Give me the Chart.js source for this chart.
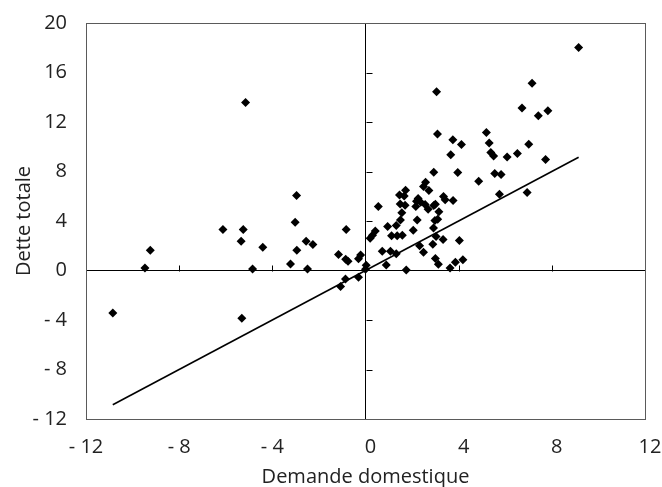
<!DOCTYPE html>
<html>
<head>
<meta charset="utf-8">
<script src="https://cdn.jsdelivr.net/npm/chart.js@4.4.1/dist/chart.umd.min.js"></script>
<style>
    html, body { margin: 0; padding: 0; background: #fff; }
    #wrap { width: 662px; height: 487px; }
</style>
</head>
<body>
<div id="wrap"><canvas id="Chart_Dette"></canvas></div>
<script>
// données
var demandeX = [
    -10.85, -9.47, -9.24, -6.12, -5.25, -5.34, -5.15, -5.31, -4.85, -4.41,
    -3.22, -3.02, -2.96, -2.95, -2.55, -2.26, -2.49, -1.16, -0.83, -0.85,
    -0.75, -0.30, -0.21, -1.07, -0.86, -0.30,
    0.03, 0.00, 0.20, 0.30, 0.42, 0.55, 0.72, 0.89, 0.95, 1.07,
    1.32, 1.12, 1.36, 1.58, 1.32, 1.50, 1.56, 1.49, 1.70, 1.46,
    1.66, 1.72, 1.75, 2.05, 2.22, 2.16, 2.19, 2.26, 2.37, 2.56,
    2.69, 2.49, 2.58, 2.72, 2.32, 2.49, 2.93, 2.93, 3.00, 3.15,
    2.98, 3.10, 2.92, 3.03, 2.89, 3.33, 4.03, 3.00, 3.13, 3.63,
    3.86, 4.18, 3.35, 3.42, 3.76, 3.05, 3.09, 3.75, 4.12, 3.66,
    3.96, 4.86, 5.19, 5.31, 5.38, 5.50, 6.08, 6.52, 7.01, 7.73,
    5.55, 5.82, 5.75, 6.94, 6.72, 7.15, 7.42, 7.83, 9.15
];
var detteY = [
    -3.43, 0.20, 1.64, 3.31, 3.31, 2.37, 13.57, -3.86, 0.13, 1.88,
    0.53, 3.90, 6.06, 1.64, 2.37, 2.10, 0.13, 1.29, 3.31, 0.90,
    0.75, 0.94, 1.26, -1.30, -0.68, -0.54,
    0.43, 0.10, 2.60, 2.85, 3.20, 5.17, 1.56, 0.45, 3.55, 1.56,
    1.35, 2.80, 2.80, 2.85, 3.63, 4.09, 4.66, 5.38, 5.28, 6.11,
    6.03, 6.49, 0.05, 3.26, 4.09, 5.17, 5.60, 5.81, 5.52, 5.33,
    4.95, 6.79, 7.14, 6.46, 2.01, 1.48, 7.94, 5.25, 5.36, 4.74,
    4.05, 4.15, 3.44, 2.74, 2.12, 2.50, 2.42, 0.96, 0.51, 0.21,
    0.67, 0.86, 5.98, 5.72, 5.65, 14.44, 11.04, 10.56, 10.18, 9.35,
    7.92, 7.22, 11.15, 10.31, 9.53, 9.25, 9.18, 9.45, 10.21, 8.97,
    7.84, 7.76, 6.17, 6.30, 13.14, 15.14, 12.50, 12.90, 18.02
];
// droite de régression (extrémités)
var droiteX = [-10.85, 9.15];
var droiteY = [-10.85, 9.15];
// graduations
var ticksX = [-12, -8, -4, 0, 4, 8, 12];
var ticksY = [-12, -8, -4, 0, 4, 8, 12, 16, 20];

var points = demandeX.map(function (x, i) {
    return { x: x, y: detteY[i] };
});
var droite = droiteX.map(function (x, i) {
    return { x: x, y: droiteY[i] };
});

function labelNeg(v) {
    return v < 0 ? '- ' + Math.abs(v) : '' + v;
}

// pas de marge automatique pour les étiquettes qui débordent
function sansMarge(scale) {
    scale.paddingLeft = 0;
    scale.paddingRight = 0;
    scale.paddingTop = 0;
    scale.paddingBottom = 0;
}

// cadre + petites graduations sur les axes du zéro
const plugin = {
    id: 'cadre_axes',
    beforeDatasetsDraw: (chart) => {
        const ctx = chart.ctx;
        const a = chart.chartArea;
        const sx = chart.scales.x;
        const sy = chart.scales.y;
        const x0 = Math.round(sx.getPixelForValue(0)) + 0.5;
        const y0 = Math.round(sy.getPixelForValue(0)) + 0.5;
        ctx.save();
        ctx.strokeStyle = '#000';
        ctx.lineWidth = 1;
        ctx.beginPath();
        ticksX.forEach(function (v) {
            if (v === 0 || v === -12 || v === 12) return;
            const px = Math.round(sx.getPixelForValue(v)) + 0.5;
            ctx.moveTo(px, y0);
            ctx.lineTo(px, y0 - 6);
        });
        ticksY.forEach(function (v) {
            if (v === 0 || v === -12 || v === 20) return;
            const py = Math.round(sy.getPixelForValue(v)) + 0.5;
            ctx.moveTo(x0, py);
            ctx.lineTo(x0 + 6, py);
        });
        ctx.stroke();
        ctx.strokeStyle = '#5a5a5a';
        ctx.strokeRect(Math.round(a.left) + 0.5, Math.round(a.top) + 0.5,
            Math.round(a.right - a.left), Math.round(a.bottom - a.top));
        ctx.restore();
    }
};

Chart.defaults.font.family = "'Open Sans', 'Noto Sans', sans-serif";
Chart.defaults.color = '#222';

var ctx1 = document.getElementById('Chart_Dette');
var Chart_Dette = new Chart(ctx1, {
    type: 'scatter',
    data: {
        datasets: [{
            label: 'Pays',
            data: points,
            pointStyle: 'rectRot',
            pointRadius: 4.5,
            pointHoverRadius: 4.5,
            backgroundColor: '#000',
            borderColor: '#000',
            borderWidth: 0,
            order: 1
        }, {
            type: 'line',
            label: 'Régression',
            data: droite,
            borderColor: '#000',
            borderWidth: 1.6,
            pointRadius: 0,
            fill: false,
            order: 2
        }]
    },
    options: {
        responsive: true,
        maintainAspectRatio: false,
        animation: false,
        events: [],
        plugins: {
            legend: { display: false },
            tooltip: { enabled: false }
        },
        layout: {
            padding: { left: 0, right: 17, top: 23, bottom: 0 }
        },
        scales: {
            x: {
                type: 'linear',
                min: -12,
                max: 12,
                afterBuildTicks: function (scale) {
                    scale.ticks = ticksX.map(function (v) { return { value: v }; });
                },
                afterFit: function (scale) { scale.height = 68; sansMarge(scale); },
                border: { display: false },
                grid: {
                    drawTicks: false,
                    lineWidth: 1,
                    color: function (c) { return c.tick && c.tick.value === 0 ? '#000' : 'rgba(0,0,0,0)'; }
                },
                ticks: {
                    padding: 16,
                    maxRotation: 0,
                    autoSkip: false,
                    font: { size: 20 },
                    callback: function (v) { return v < 0 ? labelNeg(v) : '\u2002' + v; }
                },
                title: {
                    display: true,
                    text: 'Demande domestique',
                    font: { size: 20, lineHeight: 1 },
                    padding: { top: 0, bottom: 0 }
                }
            },
            y: {
                type: 'linear',
                min: -12,
                max: 20,
                afterBuildTicks: function (scale) {
                    scale.ticks = ticksY.map(function (v) { return { value: v }; });
                },
                afterFit: function (scale) { scale.width = 86; sansMarge(scale); },
                border: { display: false },
                grid: {
                    drawTicks: false,
                    lineWidth: 1,
                    color: function (c) { return c.tick && c.tick.value === 0 ? '#000' : 'rgba(0,0,0,0)'; }
                },
                ticks: {
                    padding: 19,
                    autoSkip: false,
                    font: { size: 20 },
                    callback: function (v) { return labelNeg(v); }
                },
                title: {
                    display: true,
                    text: 'Dette totale',
                    font: { size: 20, lineHeight: 1.2 },
                    padding: { top: 12, bottom: 0 }
                }
            }
        }
    },
    plugins: [plugin]
});
</script>
</body>
</html>
